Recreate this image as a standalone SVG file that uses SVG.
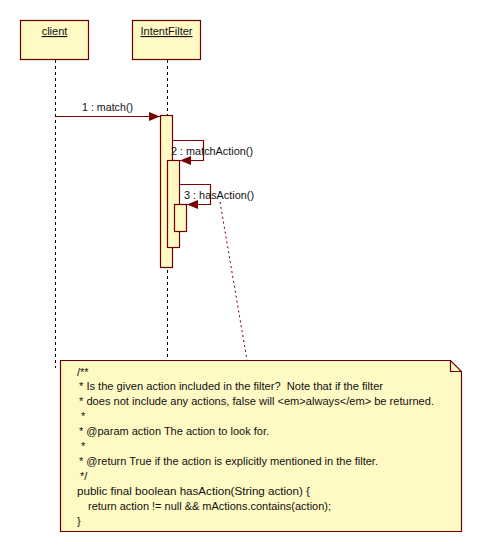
<svg xmlns="http://www.w3.org/2000/svg" width="482" height="552" viewBox="0 0 482 552">
<style>
.box{fill:#FFF9C4;stroke:#6E0000;stroke-width:1.2}
.life{stroke:#000;stroke-width:1;stroke-dasharray:3,3;fill:none}
.msg{stroke:#800000;stroke-width:1.2;fill:none}
.t{font-family:"Liberation Sans",Arial,sans-serif;font-size:11px;fill:#111;white-space:pre}
.c{text-anchor:middle;text-decoration:underline}
</style>
<defs>
<marker id="ah" markerWidth="11" markerHeight="9" refX="11" refY="4.5" orient="auto" markerUnits="userSpaceOnUse">
<path d="M0,0 L11,4.5 L0,9 Z" fill="#7A0000"/>
</marker>
</defs>
<g id="client">
<rect class="box" x="20.5" y="20.5" width="68" height="39"/>
<text class="t c" x="54.5" y="35">client</text>
</g>
<g id="intentfilter">
<rect class="box" x="132.5" y="20.5" width="68" height="39"/>
<text class="t c" x="166.5" y="35">IntentFilter</text>
</g>
<g id="lifelines">
<line class="life" x1="55.5" y1="60" x2="55.5" y2="368"/>
<line class="life" x1="167.5" y1="60" x2="167.5" y2="360"/>
</g>
<g id="activations">
<rect class="box" x="160.5" y="115.5" width="12" height="152"/>
<rect class="box" x="167.5" y="160.5" width="12" height="87"/>
<rect class="box" x="174.5" y="204.5" width="12" height="27"/>
</g>
<g id="connectors">
<line class="msg" x1="55.5" y1="116.5" x2="160" y2="116.5" marker-end="url(#ah)"/>
<polyline class="msg" points="172.5,140.5 203.5,140.5 203.5,160.5 180,160.5" marker-end="url(#ah)"/>
<polyline class="msg" points="179.5,184.5 210.5,184.5 210.5,204.5 187,204.5" marker-end="url(#ah)"/>
<line x1="220" y1="202" x2="247" y2="360" stroke="#6E0000" stroke-width="1" stroke-dasharray="2,3"/>
<text class="t" x="82" y="111" textLength="51" lengthAdjust="spacingAndGlyphs">1 : match()</text>
<text class="t" x="171" y="155" textLength="82" lengthAdjust="spacingAndGlyphs">2 : matchAction()</text>
<text class="t" x="184" y="199" textLength="70" lengthAdjust="spacingAndGlyphs">3 : hasAction()</text>
</g>
<g id="note">
<path class="box" d="M60.5,360.5 L450.5,360.5 L461.5,371.5 L461.5,531.5 L60.5,531.5 Z"/>
<path d="M450.5,360.5 L450.5,371.5 L461.5,371.5" fill="none" stroke="#6E0000" stroke-width="1.2"/>
<text class="t" x="77" y="376">/**</text>
<text class="t" x="79" y="390" textLength="304" lengthAdjust="spacingAndGlyphs">* Is the given action included in the filter?  Note that if the filter</text>
<text class="t" x="79" y="405" textLength="355" lengthAdjust="spacingAndGlyphs">* does not include any actions, false will &lt;em&gt;always&lt;/em&gt; be returned.</text>
<text class="t" x="81" y="420">*</text>
<text class="t" x="79" y="435" textLength="190" lengthAdjust="spacingAndGlyphs">* @param action The action to look for.</text>
<text class="t" x="81" y="450">*</text>
<text class="t" x="79" y="465" textLength="299" lengthAdjust="spacingAndGlyphs">* @return True if the action is explicitly mentioned in the filter.</text>
<text class="t" x="80" y="480">*/</text>
<text class="t" x="77" y="495" textLength="233" lengthAdjust="spacingAndGlyphs">public final boolean hasAction(String action) {</text>
<text class="t" x="88" y="510" textLength="243" lengthAdjust="spacingAndGlyphs">return action != null &amp;&amp; mActions.contains(action);</text>
<text class="t" x="77" y="525">}</text>
</g>
</svg>
